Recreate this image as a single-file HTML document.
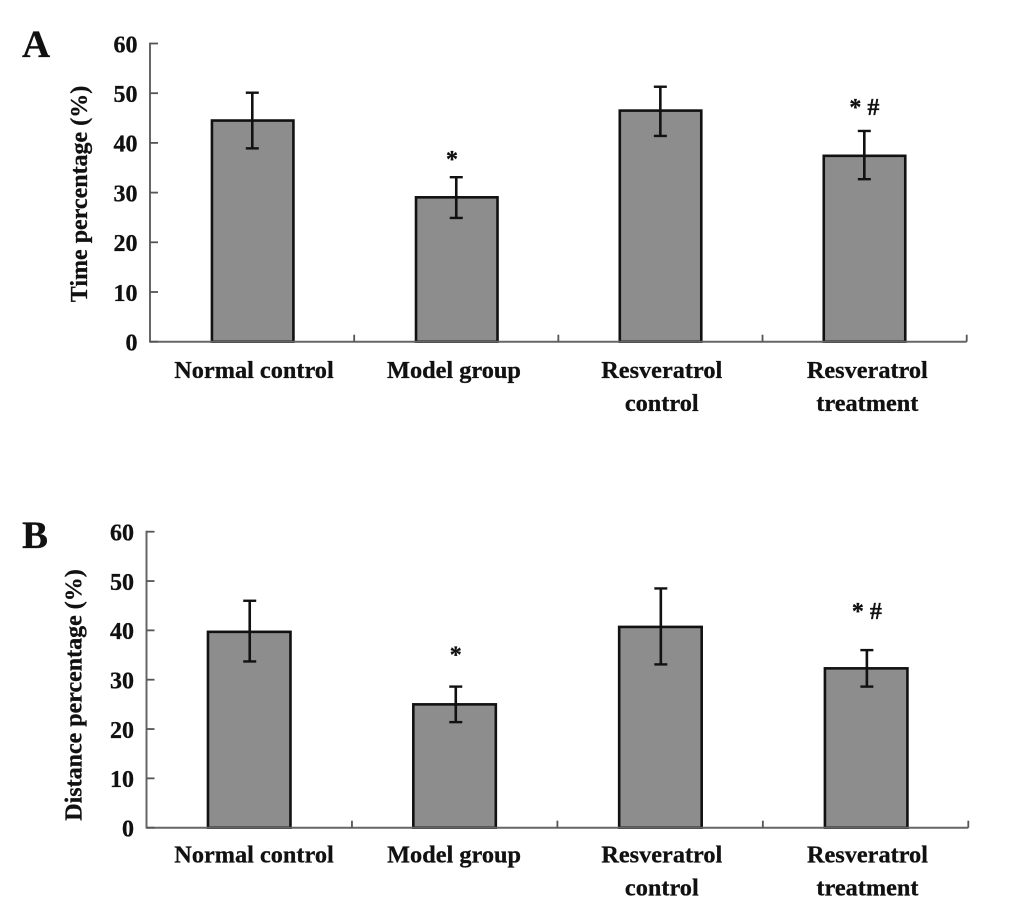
<!DOCTYPE html>
<html>
<head>
<meta charset="utf-8">
<title>Time and distance percentage by group</title>
<style>
html,body{margin:0;padding:0;background:#fff;}
svg{display:block;}
text{font-family:"Liberation Serif",serif;font-weight:bold;fill:#111;stroke:#111;stroke-width:0.3px;}
</style>
</head>
<body>
<svg id="figure" xmlns="http://www.w3.org/2000/svg" width="1033" height="902" viewBox="0 0 1033 902"></svg>
<script>
// Data
const categoriesLine1 = ["Normal control", "Model group", "Resveratrol", "Resveratrol"];
const categoriesLine2 = ["", "", "control", "treatment"];
const categorySlugs = ["normal-control", "model-group", "resveratrol-control", "resveratrol-treatment"];
const yTickLabels = [0, 10, 20, 30, 40, 50, 60];
const significance = ["", "*", "", "* #"];

const timeValues = [44.5, 29.05, 46.5, 37.4];
const timeErrorHigh = [50.1, 33.1, 51.3, 42.4];
const timeErrorLow = [38.9, 24.9, 41.4, 32.7];

const distanceValues = [39.7, 25.0, 40.7, 32.3];
const distanceErrorHigh = [46.0, 28.6, 48.5, 36.0];
const distanceErrorLow = [33.7, 21.4, 33.1, 28.6];

const NS = "http://www.w3.org/2000/svg";
const root = document.getElementById("figure");

function mk(parent, tag, attrs, content) {
  const e = document.createElementNS(NS, tag);
  for (const k in attrs) e.setAttribute(k, attrs[k]);
  if (content !== undefined) e.textContent = content;
  parent.appendChild(e);
  return e;
}

function drawPanel(cfg) {
  const yMax = yTickLabels[yTickLabels.length - 1];
  const yScale = v => cfg.y0 - (v / yMax) * (cfg.y0 - cfg.yTop);
  const band = (cfg.xRight - cfg.xLeft) / cfg.values.length;
  const xCenter = i => cfg.xLeft + band * (i + 0.5);

  const g = mk(root, "g", {});
  
  

  const letter = mk(g, "text", {x: 22, y: cfg.letterY, "font-size": 39}, cfg.letter);
  
  

  const title = mk(g, "text", {
    transform: "translate(" + cfg.titleX + "," + cfg.titleY + ") rotate(-90)",
    "text-anchor": "middle", "font-size": 24
  }, cfg.title);
  
  

  cfg.values.forEach((v, i) => {
    const bar = mk(g, "rect", {
      x: xCenter(i) + cfg.barShift[i] - cfg.barWidth / 2,
      y: yScale(v),
      width: cfg.barWidth,
      height: cfg.y0 - yScale(v),
      fill: "#8d8d8d", stroke: "#111", "stroke-width": 2.6
    });
    
    
  });

  const yAxis = mk(g, "line", {x1: cfg.xLeft, x2: cfg.xLeft, y1: cfg.yTop - 0.9, y2: cfg.y0 + 0.9, stroke: "#666", "stroke-width": 2});
  
  

  const xAxis = mk(g, "line", {x1: cfg.xLeft, x2: cfg.xRight, y1: cfg.y0, y2: cfg.y0, stroke: "#666", "stroke-width": 2});
  
  

  yTickLabels.forEach(t => {
    const tick = mk(g, "line", {x1: cfg.xLeft, x2: cfg.xLeft + 8, y1: yScale(t), y2: yScale(t), stroke: "#555", "stroke-width": 1.8});
    
    
    const label = mk(g, "text", {x: cfg.xLeft - 12.5, y: yScale(t) + 8.8, "text-anchor": "end", "font-size": 24}, String(t));
    
    
  });

  for (let i = 1; i <= cfg.values.length; i++) {
    const x = cfg.xLeft + band * i;
    const tick = mk(g, "line", {x1: x, x2: x, y1: cfg.y0 - 7, y2: cfg.y0, stroke: "#555", "stroke-width": 1.8});
    
    
  }

  cfg.values.forEach((v, i) => {
    const x = xCenter(i) + cfg.errShift[i];
    const hi = yScale(cfg.high[i]);
    const lo = yScale(cfg.low[i]);
    const stem = mk(g, "line", {x1: x, x2: x, y1: hi, y2: lo, stroke: "#111", "stroke-width": 2.6});
    
    
    const capTop = mk(g, "line", {x1: x - 6.5, x2: x + 6.5, y1: hi, y2: hi, stroke: "#111", "stroke-width": 2.4});
    
    
    const capBottom = mk(g, "line", {x1: x - 6.5, x2: x + 6.5, y1: lo, y2: lo, stroke: "#111", "stroke-width": 2.4});
    
    

    if (significance[i]) {
      const mark = mk(g, "text", {
        x: x + cfg.markShift[i],
        y: hi - cfg.markGap[i],
        "text-anchor": "middle", "font-size": 24, "xml:space": "preserve"
      }, significance[i]);
      
      
    }

    const cx = xCenter(i) + cfg.labelShift[i];
    const l1 = mk(g, "text", {x: cx, y: cfg.labelY, "text-anchor": "middle", "font-size": 24.3}, categoriesLine1[i]);
    
    
    if (categoriesLine2[i]) {
      const l2 = mk(g, "text", {x: cx, y: cfg.labelY + 33, "text-anchor": "middle", "font-size": 24.3}, categoriesLine2[i]);
      
      
    }
  });
}

drawPanel({
  name: "panel-a-time-percentage", letter: "A", letterY: 57,
  title: "Time percentage (%)", titleX: 87, titleY: 194,
  values: timeValues, high: timeErrorHigh, low: timeErrorLow,
  xLeft: 150, xRight: 966.7, yTop: 43.5, y0: 341.7, barWidth: 81.5,
  barShift: [0.6, 0.5, 0.1, -0.1], errShift: [0.2, 0, -0.1, -0.3],
  labelShift: [1.9, -2.3, 1.3, 2.7], labelY: 378,
  markShift: [0, -4.3, 0, 0], markGap: [0, 10, 0, 16]
});

drawPanel({
  name: "panel-b-distance-percentage", letter: "B", letterY: 548,
  title: "Distance percentage (%)", titleX: 81.5, titleY: 695,
  values: distanceValues, high: distanceErrorHigh, low: distanceErrorLow,
  xLeft: 146.5, xRight: 968.3, yTop: 531.7, y0: 827.7, barWidth: 82.5,
  barShift: [0, -0.1, 0.3, 0.6], errShift: [0.5, 1.1, 0.7, 1.3],
  labelShift: [4.8, -0.6, 1.7, 1.9], labelY: 862.7,
  markShift: [0, 0, 0, 0], markGap: [0, 24, 0, 31]
});
</script>
</body>
</html>
